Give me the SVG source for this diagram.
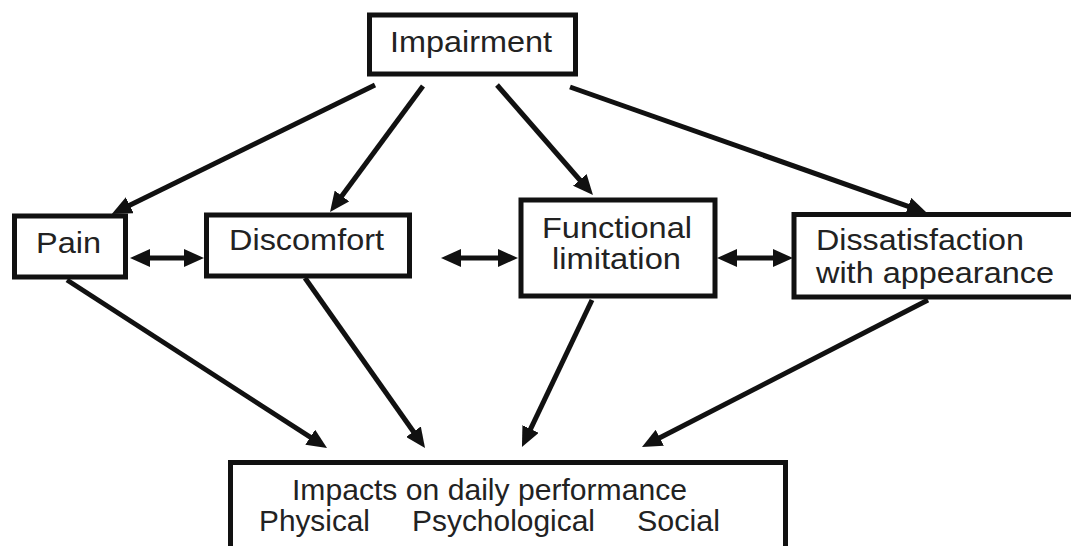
<svg xmlns="http://www.w3.org/2000/svg" width="1071" height="546" viewBox="0 0 1071 546">
<style>
.box{fill:#fff;stroke:#111;stroke-width:5}
.lbl{font-family:"Liberation Sans",Arial,sans-serif;font-size:29px;fill:#222}
.conn{stroke:#111;stroke-width:5;fill:none}
.one{marker-end:url(#ah)}
.two{marker-start:url(#ah);marker-end:url(#ah)}
</style>
<defs>
<marker id="ah" viewBox="0 0 20 18" refX="12" refY="9" markerWidth="20" markerHeight="18" markerUnits="userSpaceOnUse" orient="auto-start-reverse">
<path d="M0,0 L20,9 L0,18 z" fill="#111"/>
</marker>
</defs>
<rect width="1071" height="546" fill="#fff"/>
<g id="connectors">
<line class="conn one" x1="375" y1="85" x2="119" y2="210.5"/>
<line class="conn one" x1="423" y1="86" x2="334.8" y2="205.6"/>
<line class="conn one" x1="497" y1="85" x2="587.7" y2="189"/>
<line class="conn one" x1="570" y1="87" x2="919.5" y2="210.3"/>
<line class="conn one" x1="67" y1="280" x2="320.3" y2="443.7"/>
<line class="conn one" x1="305" y1="278" x2="420.4" y2="441.5"/>
<line class="conn one" x1="592" y1="300" x2="525.4" y2="439.8"/>
<line class="conn one" x1="928" y1="300" x2="649.1" y2="443.3"/>
<line class="conn two" x1="138" y1="258" x2="196" y2="258"/>
<line class="conn two" x1="449" y1="258" x2="510" y2="258"/>
<line class="conn two" x1="725" y1="258" x2="785" y2="258"/>
</g>
<g id="impairment">
<rect class="box" x="369.5" y="15" width="206" height="59"/>
<text class="lbl" x="390" y="52" textLength="162" lengthAdjust="spacingAndGlyphs">Impairment</text>
</g>
<g id="pain">
<rect class="box" x="14.5" y="216" width="111" height="61"/>
<text class="lbl" x="36" y="253" textLength="65" lengthAdjust="spacingAndGlyphs">Pain</text>
</g>
<g id="discomfort">
<rect class="box" x="206.5" y="215" width="203" height="61"/>
<text class="lbl" x="229" y="250" textLength="155" lengthAdjust="spacingAndGlyphs">Discomfort</text>
</g>
<g id="functional">
<rect class="box" x="521" y="200" width="194" height="96"/>
<text class="lbl" x="542" y="238" textLength="150" lengthAdjust="spacingAndGlyphs">Functional</text>
<text class="lbl" x="552" y="269" textLength="129" lengthAdjust="spacingAndGlyphs">limitation</text>
</g>
<g id="dissatisfaction">
<rect class="box" x="794" y="214.5" width="300" height="82.5"/>
<text class="lbl" x="816" y="250" textLength="208" lengthAdjust="spacingAndGlyphs">Dissatisfaction</text>
<text class="lbl" x="816" y="283" textLength="238" lengthAdjust="spacingAndGlyphs">with appearance</text>
</g>
<g id="impacts">
<rect class="box" x="230.5" y="462.5" width="555" height="120"/>
<text class="lbl" x="292" y="500" textLength="395" lengthAdjust="spacingAndGlyphs">Impacts on daily performance</text>
<text class="lbl" x="259" y="531" textLength="111" lengthAdjust="spacingAndGlyphs">Physical</text>
<text class="lbl" x="412" y="531" textLength="183" lengthAdjust="spacingAndGlyphs">Psychological</text>
<text class="lbl" x="637" y="531" textLength="83" lengthAdjust="spacingAndGlyphs">Social</text>
</g>
</svg>
